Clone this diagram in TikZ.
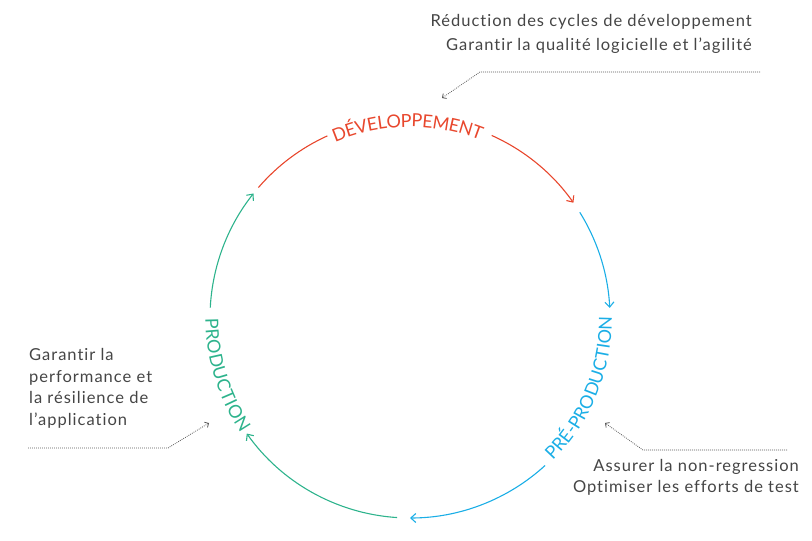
\documentclass[tikz,border=0pt]{standalone}
\usepackage{fontspec}
\setmainfont{Lato}[Ligatures={NoCommon,NoRequired,NoContextual}]
\newfontfamily\descfont{Lato}[Ligatures={NoCommon,NoRequired,NoContextual},LetterSpace=6]
\usetikzlibrary{decorations.text,arrows.meta}
\definecolor{cred}{HTML}{E8472D}
\definecolor{cblue}{HTML}{1BAEE6}
\definecolor{cgreen}{HTML}{2DB38C}
\definecolor{ctext}{HTML}{454545}
\definecolor{cdot}{HTML}{555555}
\newcommand\phaselabelfont{\fontsize{18}{18}\selectfont}
\begin{document}
\begin{tikzpicture}[x=1pt,y=1pt,
  arcline/.style={line width=1.1pt},
  flowtip/.style={-{Straight Barb[length=5pt,width=9pt,line width=1.1pt]}},
  callout/.style={cdot, line width=0.8pt, dash pattern=on 0.8pt off 1.2pt,
    -{Straight Barb[length=3pt,width=6pt,line width=0.8pt]}},
  desc/.style={text=ctext, font=\descfont\fontsize{16.5}{20}\selectfont, inner sep=0pt}]
\useasboundingbox (0,0) rectangle (812,541);
\coordinate (c) at (410,223);

% red: development
\draw[cred,arcline] ([shift={(c)}]139.3:200pt) arc[start angle=139.3,end angle=114.4,radius=200pt];
\path[decorate,decoration={text along path,text align=fit to path,raise=-9pt,
  text={|\phaselabelfont\color{cred}|DÉVELOPPEMENT}}]
  ([shift={(c)}]113:200pt) arc[start angle=113,end angle=68.5,radius=200pt];
\draw[cred,arcline,flowtip] ([shift={(c)}]65.9:200pt) arc[start angle=65.9,end angle=35.2,radius=200pt];

% blue: pre-production
\draw[cblue,arcline,flowtip] ([shift={(c)}]31.9:200pt) arc[start angle=31.9,end angle=2.9,radius=200pt];
\path[decorate,decoration={text along path,text align=fit to path,raise=-2pt,
  text={|\phaselabelfont\color{cblue}|PRÉ-PRODUCTION}}]
  ([shift={(c)}]-45:200pt) arc[start angle=-45,end angle=-1.5,radius=200pt];
\draw[cblue,arcline,flowtip] ([shift={(c)}]-47.5:200pt) arc[start angle=-47.5,end angle=-90,radius=200pt];

% green: production
\draw[cgreen,arcline,flowtip] ([shift={(c)}]-93.7:200pt) arc[start angle=-93.7,end angle=-144.7,radius=200pt];
\path[decorate,decoration={text along path,text align=fit to path,raise=-4.5pt,
  text={|\phaselabelfont\color{cgreen}|PRODUCTION}}]
  ([shift={(c)}]180:200pt) arc[start angle=180,end angle=213,radius=200pt];
\draw[cgreen,arcline,flowtip] ([shift={(c)}]177:200pt) arc[start angle=177,end angle=141.5,radius=200pt];

% callout top
\node[desc,anchor=base east] (t1) at (752,514) {Réduction des cycles de développement};
\node[desc,anchor=base east] (t2) at (752,490) {Garantir la qualité logicielle et l’agilité};
\coordinate (ta) at (760,469);
\coordinate (tb) at (480,469);
\coordinate (tc) at (442,443);
\draw[callout] (ta) -- (tb) -- (tc);

% callout right
\node[desc,anchor=base east] (r1) at (799,69) {Assurer la non-regression};
\node[desc,anchor=base east] (r2) at (799,48) {Optimiser les efforts de test};
\coordinate (ra) at (787,91);
\coordinate (rb) at (643,91);
\coordinate (rc) at (605,118);
\draw[callout] (ra) -- (rb) -- (rc);

% callout left
\node[desc,anchor=base west] (l1) at (29,180) {Garantir la};
\node[desc,anchor=base west] (l2) at (29,158.5) {performance et};
\node[desc,anchor=base west] (l3) at (29,137) {la résilience de};
\node[desc,anchor=base west] (l4) at (29,115.5) {l’application};
\coordinate (la) at (28,93);
\coordinate (lb) at (168,93);
\coordinate (lc) at (209,118);
\draw[callout] (la) -- (lb) -- (lc);
\end{tikzpicture}
\end{document}
